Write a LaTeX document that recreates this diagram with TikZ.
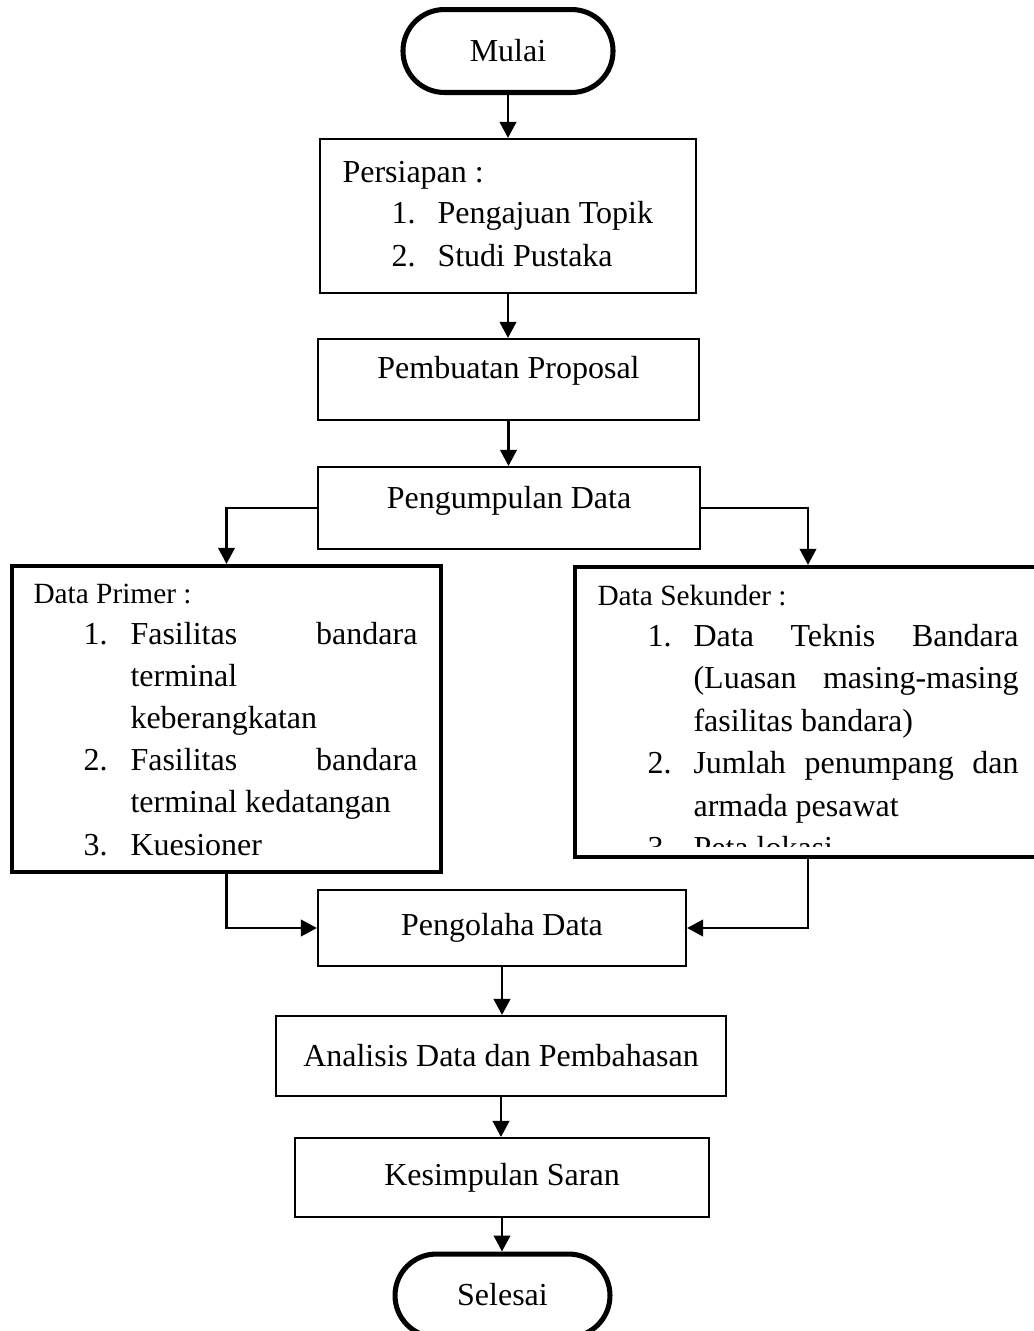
\documentclass[tikz,border=0pt]{standalone}
\usepackage{fontspec}
\setmainfont{Liberation Serif}
\usetikzlibrary{arrows.meta}
\newcommand{\jline}[2]{\makebox[#1][s]{#2}}

\begin{document}
\begin{tikzpicture}[x=0.375pt, y=-0.375pt, font=\fontsize{12}{14.4}\selectfont,
    box/.style={draw, line width=0.8pt, inner sep=0pt},
    term/.style={draw, line width=1.9pt, rounded corners=15.5pt, minimum width=#1, minimum height=31.1pt},
    databox/.style={draw, line width=1.6pt, inner sep=0pt},
    txt/.style={anchor=base west, inner sep=0pt},
    small/.style={font=\fontsize{11}{13}\selectfont},
    arr/.style={-{Triangle[length=6pt,width=6.2pt]}, line width=0.8pt}]
    \useasboundingbox (0,0) rectangle (1034,1331);
    \clip (0,0) rectangle (1034,1331);

    % Start and end
    \node[term=78.75pt, text height=10.5pt, text depth=2.5pt] (mulai) at (508,51) {Mulai};
    \node[term=80.6pt, text height=10pt, text depth=2.5pt] (selesai) at (502.5,1295.5) {Selesai};

    % Process boxes
    \node[box, minimum width=141pt, minimum height=57.75pt] (persiapan) at (508,216) {};
    \node[box, minimum width=142.9pt, minimum height=30.4pt, text height=8.5pt, text depth=9.5pt] (proposal) at (508.5,379.5) {Pembuatan Proposal};
    \node[box, minimum width=143.25pt, minimum height=30.75pt, text height=8.5pt, text depth=8pt] (kumpul) at (509,508) {Pengumpulan Data};
    \node[box, minimum width=138pt, minimum height=28.5pt] (olah) at (502,928) {Pengolaha Data};
    \node[box, minimum width=168.75pt, minimum height=30pt] (analisis) at (501,1056) {Analisis Data dan Pembahasan};
    \node[box, minimum width=155.25pt, minimum height=29.6pt] (simpul) at (502,1177.5) {Kesimpulan Saran};

    % Data boxes
    \node[databox, minimum width=160.9pt, minimum height=114.75pt] (primer) at (226.5,719) {};
    \node[databox, minimum width=174.75pt, minimum height=108.75pt] (sekunder) at (808,712) {};

    % Persiapan text
    \node[txt] (persiapanjudul) at (342,182) {Persiapan :};
    \foreach \n/\t [count=\i] in {1./Pengajuan Topik, 2./Studi Pustaka} {
        \node[txt] (pn\i) at (391,180+43*\i) {\n};
        \node[txt] (pt\i) at (437,180+43*\i) {\t};
    }

    % Data Primer text
    \node[txt, small] (primerjudul) at (33,603) {Data Primer :};
    \foreach \n/\yy [count=\i] in {1./644, 2./770, 3./855}
        \node[txt] (prn\i) at (83,\yy) {\n};
    \foreach \t/\yy [count=\i] in {{\jline{107.6pt}{Fasilitas bandara}}/644, terminal/686,
        keberangkatan/728, {\jline{107.6pt}{Fasilitas bandara}}/770,
        terminal kedatangan/812, Kuesioner/855}
        \node[txt] (prt\i) at (130,\yy) {\t};

    % Data Sekunder text
    \node[txt, small] (sekunderjudul) at (597,605) {Data Sekunder :};
    \foreach \n/\yy [count=\i] in {1./646, 2./773}
        \node[txt] (skn\i) at (647,\yy) {\n};
    \foreach \t/\yy [count=\i] in {{\jline{121.9pt}{Data Teknis Bandara}}/646,
        {\jline{121.9pt}{(Luasan masing-masing}}/688, {fasilitas bandara)}/731,
        {\jline{121.9pt}{Jumlah penumpang dan}}/773, armada pesawat/816}
        \node[txt] (skt\i) at (693,\yy) {\t};
    \begin{scope}
        \clip (580,600) rectangle (1034,846);
        \node[txt] (skn3) at (647,858) {3.};
        \node[txt] (skt6) at (693,858) {Peta lokasi};
    \end{scope}

    % Connectors
    \draw[arr] (mulai.south) -- (mulai.south |- persiapan.north);
    \draw[arr] (persiapan.south) -- (persiapan.south |- proposal.north);
    \draw[arr] (proposal.south) -- (proposal.south |- kumpul.north);
    \draw[arr] (kumpul.west) -| (primer.north);
    \draw[arr] (kumpul.east) -| (sekunder.north);
    \draw[arr] (primer.south) |- (olah.west);
    \draw[arr] (sekunder.south) |- (olah.east);
    \draw[arr] (olah.south) -- (olah.south |- analisis.north);
    \draw[arr] (analisis.south) -- (analisis.south |- simpul.north);
    \draw[arr] (simpul.south) -- (simpul.south |- selesai.north);
\end{tikzpicture}
\end{document}
